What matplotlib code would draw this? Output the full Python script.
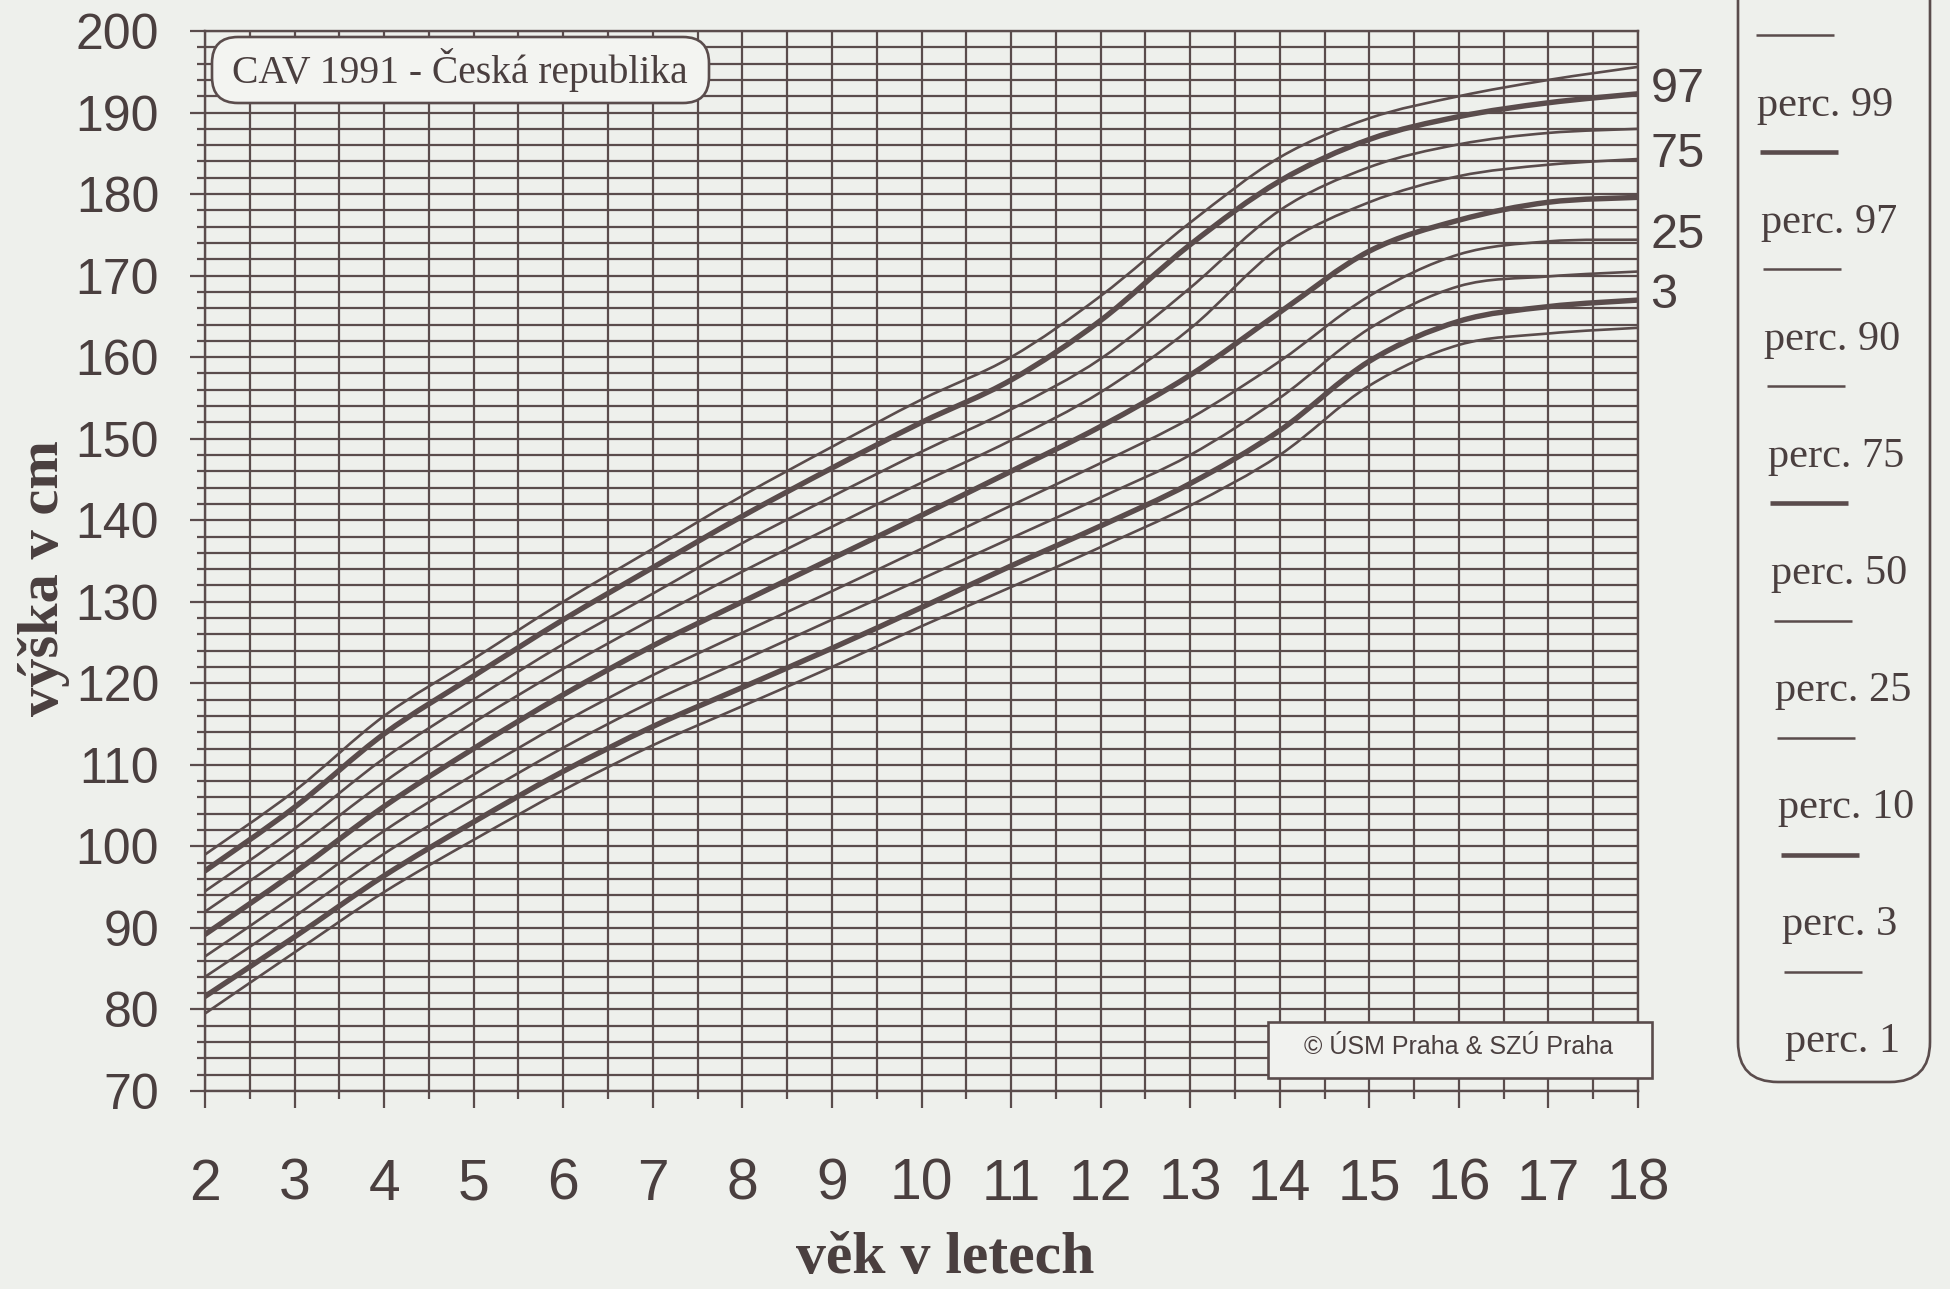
import numpy as np
import matplotlib.pyplot as plt
from matplotlib.path import Path
from matplotlib.patches import PathPatch, FancyBboxPatch, Rectangle
from matplotlib.ticker import MultipleLocator

W, H = 1950, 1289
PAPER = "#eef0ec"
INK = "#5a4c4c"
TEXT = "#4a3f3f"
SANS = "Liberation Sans"
SERIF = "Liberation Serif"

# height percentiles (cm), ages 2..18
age = [2, 3, 4, 5, 6, 7, 8, 9, 10, 11, 12, 13, 14, 15, 16, 17, 18]
p99 = [99.0, 106.8, 116.0, 123.0, 130.0, 136.5, 143.0, 149.0, 154.8, 160.0, 167.5, 176.5, 184.5, 189.3, 192.0, 194.0, 195.6]
p97 = [97.0, 104.8, 113.8, 120.9, 127.8, 134.2, 140.5, 146.4, 152.0, 157.2, 164.5, 173.8, 181.6, 186.7, 189.5, 191.2, 192.3]
p90 = [94.5, 102.2, 110.8, 118.0, 124.8, 131.0, 137.2, 142.9, 148.4, 153.6, 159.8, 168.5, 178.0, 183.3, 186.1, 187.5, 188.0]
p75 = [92.0, 99.6, 107.9, 115.2, 121.8, 127.9, 133.7, 139.2, 144.6, 149.8, 155.7, 163.5, 173.5, 179.0, 182.2, 183.6, 184.3]
p50 = [89.2, 96.8, 104.9, 112.0, 118.6, 124.6, 130.0, 135.3, 140.6, 146.0, 151.5, 157.8, 165.5, 173.0, 176.8, 179.0, 179.6]
p25 = [86.5, 94.0, 101.9, 108.8, 115.2, 121.0, 126.2, 131.3, 136.5, 141.8, 147.0, 152.5, 159.5, 167.5, 172.6, 174.2, 174.4]
p10 = [84.0, 91.4, 99.1, 105.8, 112.1, 117.8, 122.8, 127.8, 132.8, 137.8, 142.8, 148.0, 155.0, 163.5, 168.7, 169.9, 170.5]
p3 = [81.6, 88.9, 96.4, 103.0, 109.2, 114.7, 119.5, 124.3, 129.3, 134.4, 139.3, 144.5, 151.0, 159.5, 164.4, 166.2, 167.0]
p1 = [79.5, 87.0, 94.4, 100.8, 106.9, 112.4, 117.2, 122.0, 127.0, 131.8, 136.7, 141.8, 148.0, 156.5, 161.5, 162.9, 163.6]

curves = [("99", p99, False), ("97", p97, True), ("90", p90, False),
          ("75", p75, False), ("50", p50, True), ("25", p25, False),
          ("10", p10, False), ("3", p3, True), ("1", p1, False)]
end_labels = {"97": p97, "75": p75, "25": p25, "3": p3}

title = "CAV 1991 - Česká republika"
credit = "© ÚSM Praha & SZÚ Praha"


def smooth_path(xs, ys):
    # catmull-rom through the read points, drawn as cubic bezier
    pts = np.column_stack([xs, ys]).astype(float)
    n = len(pts)
    verts = [pts[0]]
    codes = [Path.MOVETO]
    for i in range(n - 1):
        p0 = pts[max(i - 1, 0)]
        p1_ = pts[i]
        p2_ = pts[i + 1]
        p3_ = pts[min(i + 2, n - 1)]
        verts += [p1_ + (p2_ - p0) / 6, p2_ - (p3_ - p1_) / 6, p2_]
        codes += [Path.CURVE4] * 3
    return Path(verts, codes)


fig = plt.figure(figsize=(W / 100, H / 100), dpi=100, facecolor=PAPER)

left, right, top, bottom = 205, 1638, 31, 1091
ax = fig.add_axes([left / W, 1 - bottom / H, (right - left) / W, (bottom - top) / H])
ax.set_facecolor(PAPER)
ax.set_xlim(2, 18)
ax.set_ylim(70, 200)

ax.xaxis.set_major_locator(MultipleLocator(1))
ax.xaxis.set_minor_locator(MultipleLocator(0.5))
ax.yaxis.set_major_locator(MultipleLocator(10))
ax.yaxis.set_minor_locator(MultipleLocator(2))
ax.set_axisbelow(True)
ax.grid(which="both", color=INK, linewidth=1.6)
for s in ax.spines.values():
    s.set_color(INK)
    s.set_linewidth(1.7)

ax.tick_params(axis="x", which="major", length=12, width=1.6, color=INK,
               pad=36, labelsize=41, labelcolor=TEXT)
ax.tick_params(axis="x", which="minor", length=6, width=1.6, color=INK)
ax.tick_params(axis="y", which="major", length=11, width=1.6, color=INK,
               pad=22, labelsize=36, labelcolor=TEXT)
ax.tick_params(axis="y", which="minor", length=6, width=1.6, color=INK)
for lab in ax.get_xticklabels() + ax.get_yticklabels():
    lab.set_fontfamily(SANS)

for name, vals, bold in curves:
    patch = PathPatch(smooth_path(age, vals), fill=False, edgecolor=INK,
                      linewidth=3.9 if bold else 1.9,
                      capstyle="round" if bold else "butt", zorder=3)
    ax.add_patch(patch)

for name, vals in end_labels.items():
    ax.annotate(name, xy=(age[-1], vals[-1]), xytext=(9, 3),
                textcoords="offset points", ha="left", va="center",
                fontsize=35, color=TEXT, family=SANS, annotation_clip=False)

# overlay in pixel coordinates for boxes and labels
ov = fig.add_axes([0, 0, 1, 1])
ov.set_xlim(0, W)
ov.set_ylim(H, 0)
ov.axis("off")
ov.patch.set_alpha(0)

ov.add_patch(FancyBboxPatch((212, 37), 497, 66,
                            boxstyle="round,pad=0,rounding_size=26",
                            facecolor="#f3f4f1", edgecolor=INK, linewidth=1.9))
ov.text(460, 70, title, ha="center", va="center", fontsize=28.5,
        color=TEXT, family=SERIF)

ov.add_patch(Rectangle((1268, 1022), 384, 56, facecolor="#f1f2ef",
                       edgecolor=INK, linewidth=1.9))
ov.text(1459, 1047, credit, ha="center", va="center", fontsize=18,
        color=TEXT, family=SANS)

ov.text(945, 1259, "věk v letech", ha="center", va="center", fontsize=43,
        fontweight="bold", color=TEXT, family=SERIF)
ov.text(44, 578, "výška v cm", ha="center", va="center", fontsize=42,
        fontweight="bold", color=TEXT, family=SERIF, rotation=90)

# legend panel
ov.add_patch(FancyBboxPatch((1738, -40), 192, 1122,
                            boxstyle="round,pad=0,rounding_size=40",
                            facecolor=PAPER, edgecolor=INK, linewidth=1.9))
for i, (name, vals, bold) in enumerate(curves):
    y_line = 35 + i * 117.1
    y_text = 106 + i * 117.0
    x0 = 1756 + (y_line - 35) * 0.03
    ov.plot([x0, x0 + 78], [y_line, y_line], color=INK,
            linewidth=3.3 if bold else 1.8, solid_capstyle="butt")
    ov.text(1757 + (y_text - 106) * 0.03, y_text, "perc. " + name,
            ha="left", va="center", fontsize=30.5, color=TEXT, family=SERIF)

fig.savefig("out.png", dpi=100, facecolor=PAPER)
